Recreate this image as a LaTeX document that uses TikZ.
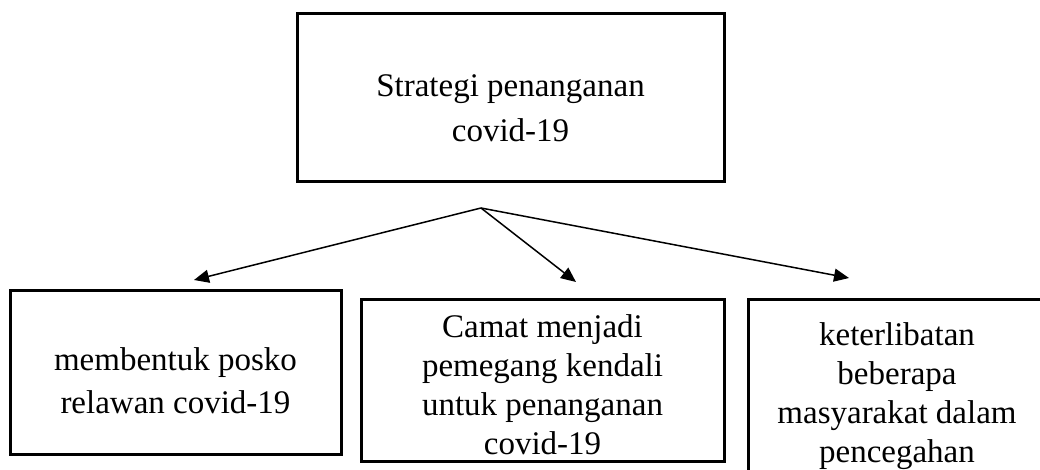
\documentclass[tikz,border=0pt]{standalone}
\usepackage{fontspec}
\setmainfont{Liberation Serif}
\usetikzlibrary{arrows.meta}

\newcommand{\boxtext}[2]{\smash{\raisebox{#1}{\begin{tabular}{@{}c@{}}#2\end{tabular}}}}

\begin{document}
\begin{tikzpicture}[x=0.5pt,y=-0.5pt,
    box/.style={draw, rectangle, line width=1.5pt, align=center, inner sep=0pt,
      font=\fontsize{16.5}{21.5}\selectfont},
    tight/.style={font=\fontsize{16.5}{19.5}\selectfont},
    arr/.style={line width=0.75pt, -{Triangle[length=7.5pt,width=6.5pt]}}]
          \clip (0,0) rectangle (1040,470);
          \useasboundingbox (0,0) rectangle (1040,470);
          % Nodes
          \node[box, minimum width=213.5pt, minimum height=84pt] (strategi) at (510.5,98)
            {\boxtext{-10.5pt}{Strategi penanganan\\[1pt]covid-19}};
          \node[box, minimum width=165.5pt, minimum height=82pt] (posko) at (175.5,373)
            {\boxtext{-9.5pt}{membentuk posko\\relawan covid-19}};
          \node[box, tight, minimum width=181.5pt, minimum height=81pt] (camat) at (542.5,381)
            {\boxtext{-8pt}{Camat menjadi\\pemegang kendali\\untuk penanganan\\covid-19}};
          \node[box, tight, minimum width=149pt, minimum height=95pt] (masyarakat) at (897,395)
            {\boxtext{-5pt}{keterlibatan\\beberapa\\masyarakat dalam\\pencegahan}};
          \coordinate (cabang) at (481,208);
          \coordinate (ujung1) at (194,280);
          \coordinate (ujung2) at (576,282);
          \coordinate (ujung3) at (849,278);

          % Arrows
          \draw[arr] (cabang) -- (ujung1);
          \draw[arr] (cabang) -- (ujung2);
          \draw[arr] (cabang) -- (ujung3);
        \end{tikzpicture}
\end{document}
